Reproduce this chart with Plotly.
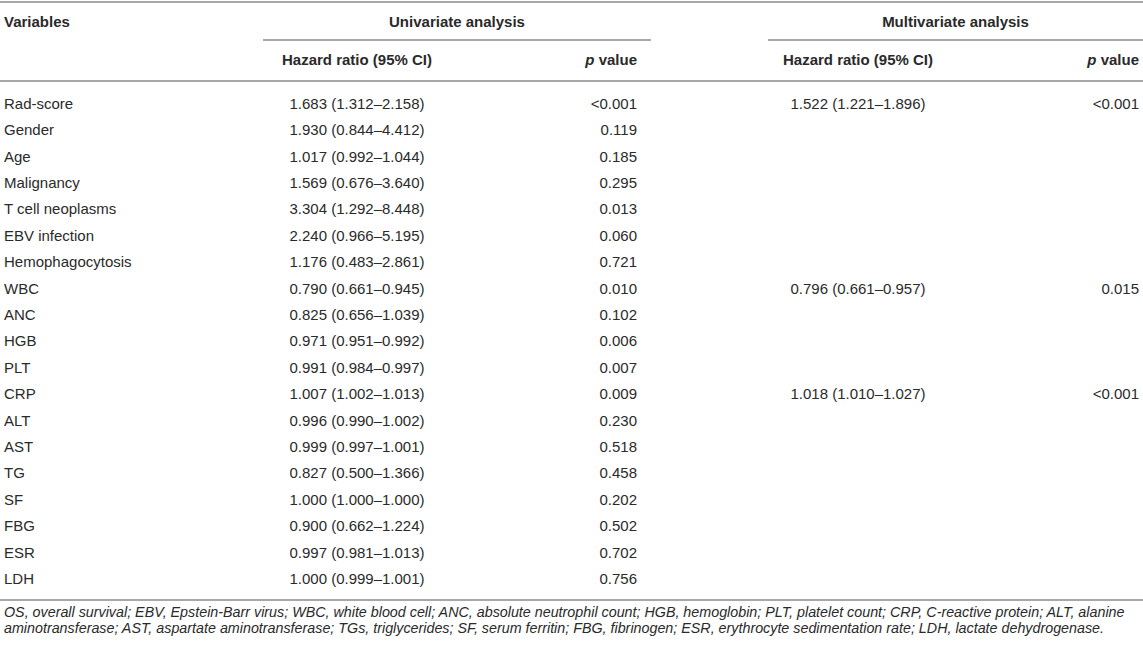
import plotly.graph_objects as go

W, H = 1143, 648

variables = ["Rad-score", "Gender", "Age", "Malignancy", "T cell neoplasms", "EBV infection",
             "Hemophagocytosis", "WBC", "ANC", "HGB", "PLT", "CRP", "ALT", "AST", "TG",
             "SF", "FBG", "ESR", "LDH"]
uni_hr = ["1.683 (1.312–2.158)", "1.930 (0.844–4.412)", "1.017 (0.992–1.044)",
          "1.569 (0.676–3.640)", "3.304 (1.292–8.448)", "2.240 (0.966–5.195)",
          "1.176 (0.483–2.861)", "0.790 (0.661–0.945)", "0.825 (0.656–1.039)",
          "0.971 (0.951–0.992)", "0.991 (0.984–0.997)", "1.007 (1.002–1.013)",
          "0.996 (0.990–1.002)", "0.999 (0.997–1.001)", "0.827 (0.500–1.366)",
          "1.000 (1.000–1.000)", "0.900 (0.662–1.224)", "0.997 (0.981–1.013)",
          "1.000 (0.999–1.001)"]
uni_p = ["<0.001", "0.119", "0.185", "0.295", "0.013", "0.060", "0.721", "0.010", "0.102",
         "0.006", "0.007", "0.009", "0.230", "0.518", "0.458", "0.202", "0.502", "0.702", "0.756"]
multi_hr = ["1.522 (1.221–1.896)", "", "", "", "", "", "", "0.796 (0.661–0.957)", "", "", "",
            "1.018 (1.010–1.027)", "", "", "", "", "", "", ""]
multi_p = ["<0.001", "", "", "", "", "", "", "0.015", "", "", "", "<0.001", "", "", "", "",
           "", "", ""]

footnote = [
    "OS, overall survival; EBV, Epstein-Barr virus; WBC, white blood cell; ANC, absolute neutrophil count; "
    "HGB, hemoglobin; PLT, platelet count; CRP, C-reactive protein; ALT, alanine",
    "aminotransferase; AST, aspartate aminotransferase; TGs, triglycerides; SF, serum ferritin; "
    "FBG, fibrinogen; ESR, erythrocyte sedimentation rate; LDH, lactate dehydrogenase.",
]

FONT = "Liberation Sans, Arial, sans-serif"
TXT = "#2a2a2a"
LINE = "#a8a8a8"
FS = 15

# layout positions (pixels)
row0, row_step = 105, 26.4
rows_y = [row0 + i * row_step for i in range(len(variables))]
x_var = 4
x_uni_hr = 357
x_uni_p = 637
x_multi_hr = 858
x_multi_p = 1139
uni_span = (263, 651)
multi_span = (768, W)

fig = go.Figure()

def text_trace(xs, ys, texts, pos, size=FS, family=FONT, color=TXT):
    fig.add_trace(go.Scatter(
        x=xs, y=ys, text=texts, mode="text", textposition=pos,
        textfont=dict(family=family, size=size, color=color),
        hoverinfo="skip", showlegend=False, cliponaxis=False))

# body
text_trace([x_var] * len(variables), rows_y, variables, "middle right")
text_trace([x_uni_hr] * len(uni_hr), rows_y, uni_hr, "middle center")
text_trace([x_uni_p] * len(uni_p), rows_y, uni_p, "middle left")
text_trace([x_multi_hr] * len(multi_hr), rows_y, multi_hr, "middle center")
text_trace([x_multi_p] * len(multi_p), rows_y, multi_p, "middle left")

# headers
y_h1, y_h2 = 23, 61
text_trace([x_var], [y_h1], ["<b>Variables</b>"], "middle right")
text_trace([sum(uni_span) / 2, sum(multi_span) / 2], [y_h1, y_h1],
           ["<b>Univariate analysis</b>", "<b>Multivariate analysis</b>"], "middle center")
text_trace([x_uni_hr, x_multi_hr], [y_h2, y_h2],
           ["<b>Hazard ratio (95% CI)</b>", "<b>Hazard ratio (95% CI)</b>"], "middle center")
text_trace([x_uni_p, x_multi_p], [y_h2, y_h2],
           ["<b><i>p</i> value</b>", "<b><i>p</i> value</b>"], "middle left")

# footnote
text_trace([x_var, x_var], [613, 629], ["<i>%s</i>" % f for f in footnote], "middle right",
           size=14.3)

# rules
def hline(x0, x1, y):
    fig.add_shape(type="line", x0=x0, x1=x1, y0=y, y1=y, xref="x", yref="y",
                  line=dict(color=LINE, width=2))

hline(0, W, 2)
hline(uni_span[0], uni_span[1], 40)
hline(multi_span[0], multi_span[1], 40)
hline(0, W, 81)
hline(0, W, 600)

fig.update_layout(
    width=W, height=H,
    margin=dict(l=0, r=0, t=0, b=0),
    paper_bgcolor="white", plot_bgcolor="white",
    xaxis=dict(range=[0, W], visible=False, fixedrange=True),
    yaxis=dict(range=[H, 0], visible=False, fixedrange=True),
)

fig.write_html("out.html", config={"displayModeBar": False},
               post_script="document.body.style.margin='0';document.body.style.overflow='hidden';")
